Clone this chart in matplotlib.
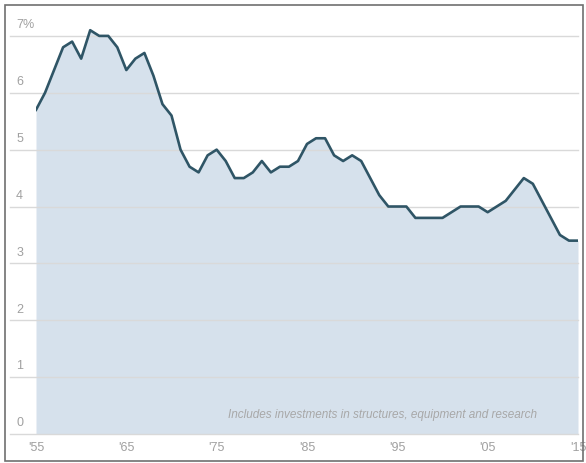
import matplotlib
matplotlib.use("Agg")
import matplotlib.pyplot as plt
from matplotlib.patches import Rectangle

plt.rcParams['font.family'] = ['Liberation Sans Narrow', 'Liberation Sans', 'DejaVu Sans']

years = list(range(1955, 2016))
share = [5.7, 6.0, 6.4, 6.8, 6.9, 6.6, 7.1, 7.0, 7.0, 6.8,
         6.4, 6.6, 6.7, 6.3, 5.8, 5.6, 5.0, 4.7, 4.6, 4.9,
         5.0, 4.8, 4.5, 4.5, 4.6, 4.8, 4.6, 4.7, 4.7, 4.8,
         5.1, 5.2, 5.2, 4.9, 4.8, 4.9, 4.8, 4.5, 4.2, 4.0,
         4.0, 4.0, 3.8, 3.8, 3.8, 3.8, 3.9, 4.0, 4.0, 4.0,
         3.9, 4.0, 4.1, 4.3, 4.5, 4.4, 4.1, 3.8, 3.5, 3.4,
         3.4]
y_ticks = [0, 1, 2, 3, 4, 5, 6, 7]
y_labels = ['0', '1', '2', '3', '4', '5', '6', '7%']
x_ticks = [1955, 1965, 1975, 1985, 1995, 2005, 2015]
x_labels = ["'55", "'65", "'75", "'85", "'95", "'05", "'15"]
note = "Includes investments in structures, equipment and research"

fig = plt.figure(figsize=(5.86, 4.64), dpi=100)
ax = fig.add_axes([36 / 586, 29 / 464, 542 / 586, 418 / 464])

ax.fill_between(years, share, 0, color='#d6e1ec', lw=0, zorder=1)
ax.plot(years, share, color='#2f5566', lw=1.9, zorder=3, solid_joinstyle='round')

for t in y_ticks:
    ax.axhline(t, xmin=-0.048, xmax=1.0, color='#d9d9d9', lw=1.0, zorder=2, clip_on=False)
    ax.text(1952.8, t + 0.1, y_labels[y_ticks.index(t)], color='#a0a0a0', fontsize=9,
            ha='left', va='bottom')

ax.set_xlim(1955, 2015)
ax.set_ylim(0, 7.35)
ax.set_xticks(x_ticks)
ax.set_xticklabels(x_labels, color='#a0a0a0', fontsize=9)
ax.tick_params(axis='x', length=0, pad=5)
ax.set_yticks([])
for s in ax.spines.values():
    s.set_visible(False)

ax.text(2010.5, 0.35, note, style='italic', color='#a8a8a8', fontsize=8.5,
        ha='right', va='center', zorder=4)

fig.patches.append(Rectangle((5 / 586, 2 / 464), 578 / 586, 456 / 464, transform=fig.transFigure,
                             fill=False, edgecolor='#707070', lw=1.2))

fig.savefig('out.png', dpi=100)
